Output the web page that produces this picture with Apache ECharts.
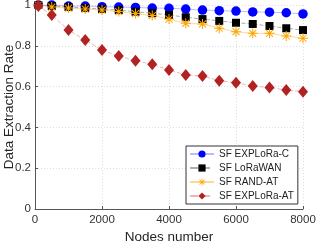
<!DOCTYPE html>
<html><head><meta charset="utf-8">
<script src="https://cdn.jsdelivr.net/npm/echarts@6/dist/echarts.min.js"></script>
<style>html,body{margin:0;padding:0;background:#fff}#c{width:316px;height:242px}</style>
</head><body><div id="c"></div>
<script>
const nodes = [100,500,1000,1500,2000,2500,3000,3500,4000,4500,5000,5500,6000,6500,7000,7500,8000];
const explora_c = [1.0,1.0,0.995,0.995,0.992,0.99,0.988,0.985,0.984,0.98,0.975,0.972,0.97,0.966,0.965,0.962,0.956];
const lorawan = [1.0,0.995,0.99,0.985,0.98,0.975,0.967,0.96,0.951,0.94,0.931,0.922,0.913,0.907,0.897,0.886,0.877];
const rand_at = [1.0,0.99,0.985,0.98,0.975,0.968,0.958,0.948,0.931,0.91,0.907,0.886,0.869,0.861,0.861,0.848,0.837];
const explora_at = [0.995,0.951,0.877,0.828,0.779,0.75,0.727,0.709,0.681,0.657,0.652,0.629,0.619,0.603,0.595,0.583,0.575];
const seriesNames = ['SF EXPLoRa-C','SF LoRaWAN','SF RAND-AT','SF EXPLoRa-AT'];
const yTicks = [0,0.2,0.4,0.6,0.8,1];
const xTicks = [0,2000,4000,6000,8000];

const pair = a => nodes.map((x,i)=>[x,a[i]]);
const ast = 'path://M-1,-10L1,-10L1,10L-1,10Z M-10,-1L10,-1L10,1L-10,1Z M-7.7,-6.3L-6.3,-7.7L7.7,6.3L6.3,7.7Z M-7.7,6.3L6.3,-7.7L7.7,-6.3L-6.3,7.7Z';
const font = 'Liberation Sans, Arial, sans-serif';
const chart = echarts.init(document.getElementById('c'), null, {renderer:'canvas'});
chart.setOption({
  animation:false,
  backgroundColor:'#fff',
  grid:{left:35,right:13,top:5,bottom:33,containLabel:false,outerBoundsMode:'none'},
  xAxis:{type:'value',min:0,max:8000,interval:2000,
    name:'Nodes number',nameLocation:'middle',nameGap:21,nameMoveOverlap:false,
    nameTextStyle:{fontFamily:font,fontSize:13.5,color:'#262626'},
    axisLine:{lineStyle:{color:'#555',width:1}},
    axisTick:{inside:true,length:3,lineStyle:{color:'#555'}},
    axisLabel:{fontFamily:font,fontSize:11.5,color:'#333',margin:5,formatter:v=>String(v)},
    splitLine:{show:true,lineStyle:{color:'#ddd',type:[1,2],width:1}}},
  yAxis:{type:'value',min:0,max:1,interval:0.2,
    name:'Data Extraction Rate',nameLocation:'middle',nameGap:19,nameMoveOverlap:false,
    nameTextStyle:{fontFamily:font,fontSize:13.5,color:'#262626'},
    axisLine:{show:true,lineStyle:{color:'#555',width:1}},
    axisTick:{show:true,inside:true,length:3,lineStyle:{color:'#555'}},
    axisLabel:{fontFamily:font,fontSize:11.5,color:'#333',margin:4,formatter:v=>String(+v.toFixed(1))},
    splitLine:{show:true,lineStyle:{color:'#ddd',type:[1,2],width:1}}},
  legend:{left:186,top:146,orient:'vertical',itemGap:4,itemWidth:24,itemHeight:9,
    padding:[3,4,3,3],borderColor:'#333',borderWidth:1,backgroundColor:'#fff',
    textStyle:{fontFamily:font,fontSize:10,color:'#222'},
    data:seriesNames},
  series:[
    {name:seriesNames[0],type:'line',data:pair(explora_c),symbol:'circle',symbolSize:9.5,
      itemStyle:{color:'#0000ff'},lineStyle:{color:'rgba(120,120,255,0.5)',width:1}},
    {name:seriesNames[1],type:'line',data:pair(lorawan),symbol:'rect',symbolSize:8,
      itemStyle:{color:'#000'},lineStyle:{color:'rgba(120,120,120,0.6)',width:1,type:'dashed'}},
    {name:seriesNames[2],type:'line',data:pair(rand_at),symbol:ast,symbolSize:10,
      itemStyle:{color:'#ffa500'},lineStyle:{color:'rgba(255,190,80,0.6)',width:1}},
    {name:seriesNames[3],type:'line',data:pair(explora_at),symbol:'diamond',symbolSize:[10,12],
      itemStyle:{color:'#b22222'},lineStyle:{color:'rgba(230,150,150,0.7)',width:1,type:'dashed'}}
  ]
});
</script></body></html>
